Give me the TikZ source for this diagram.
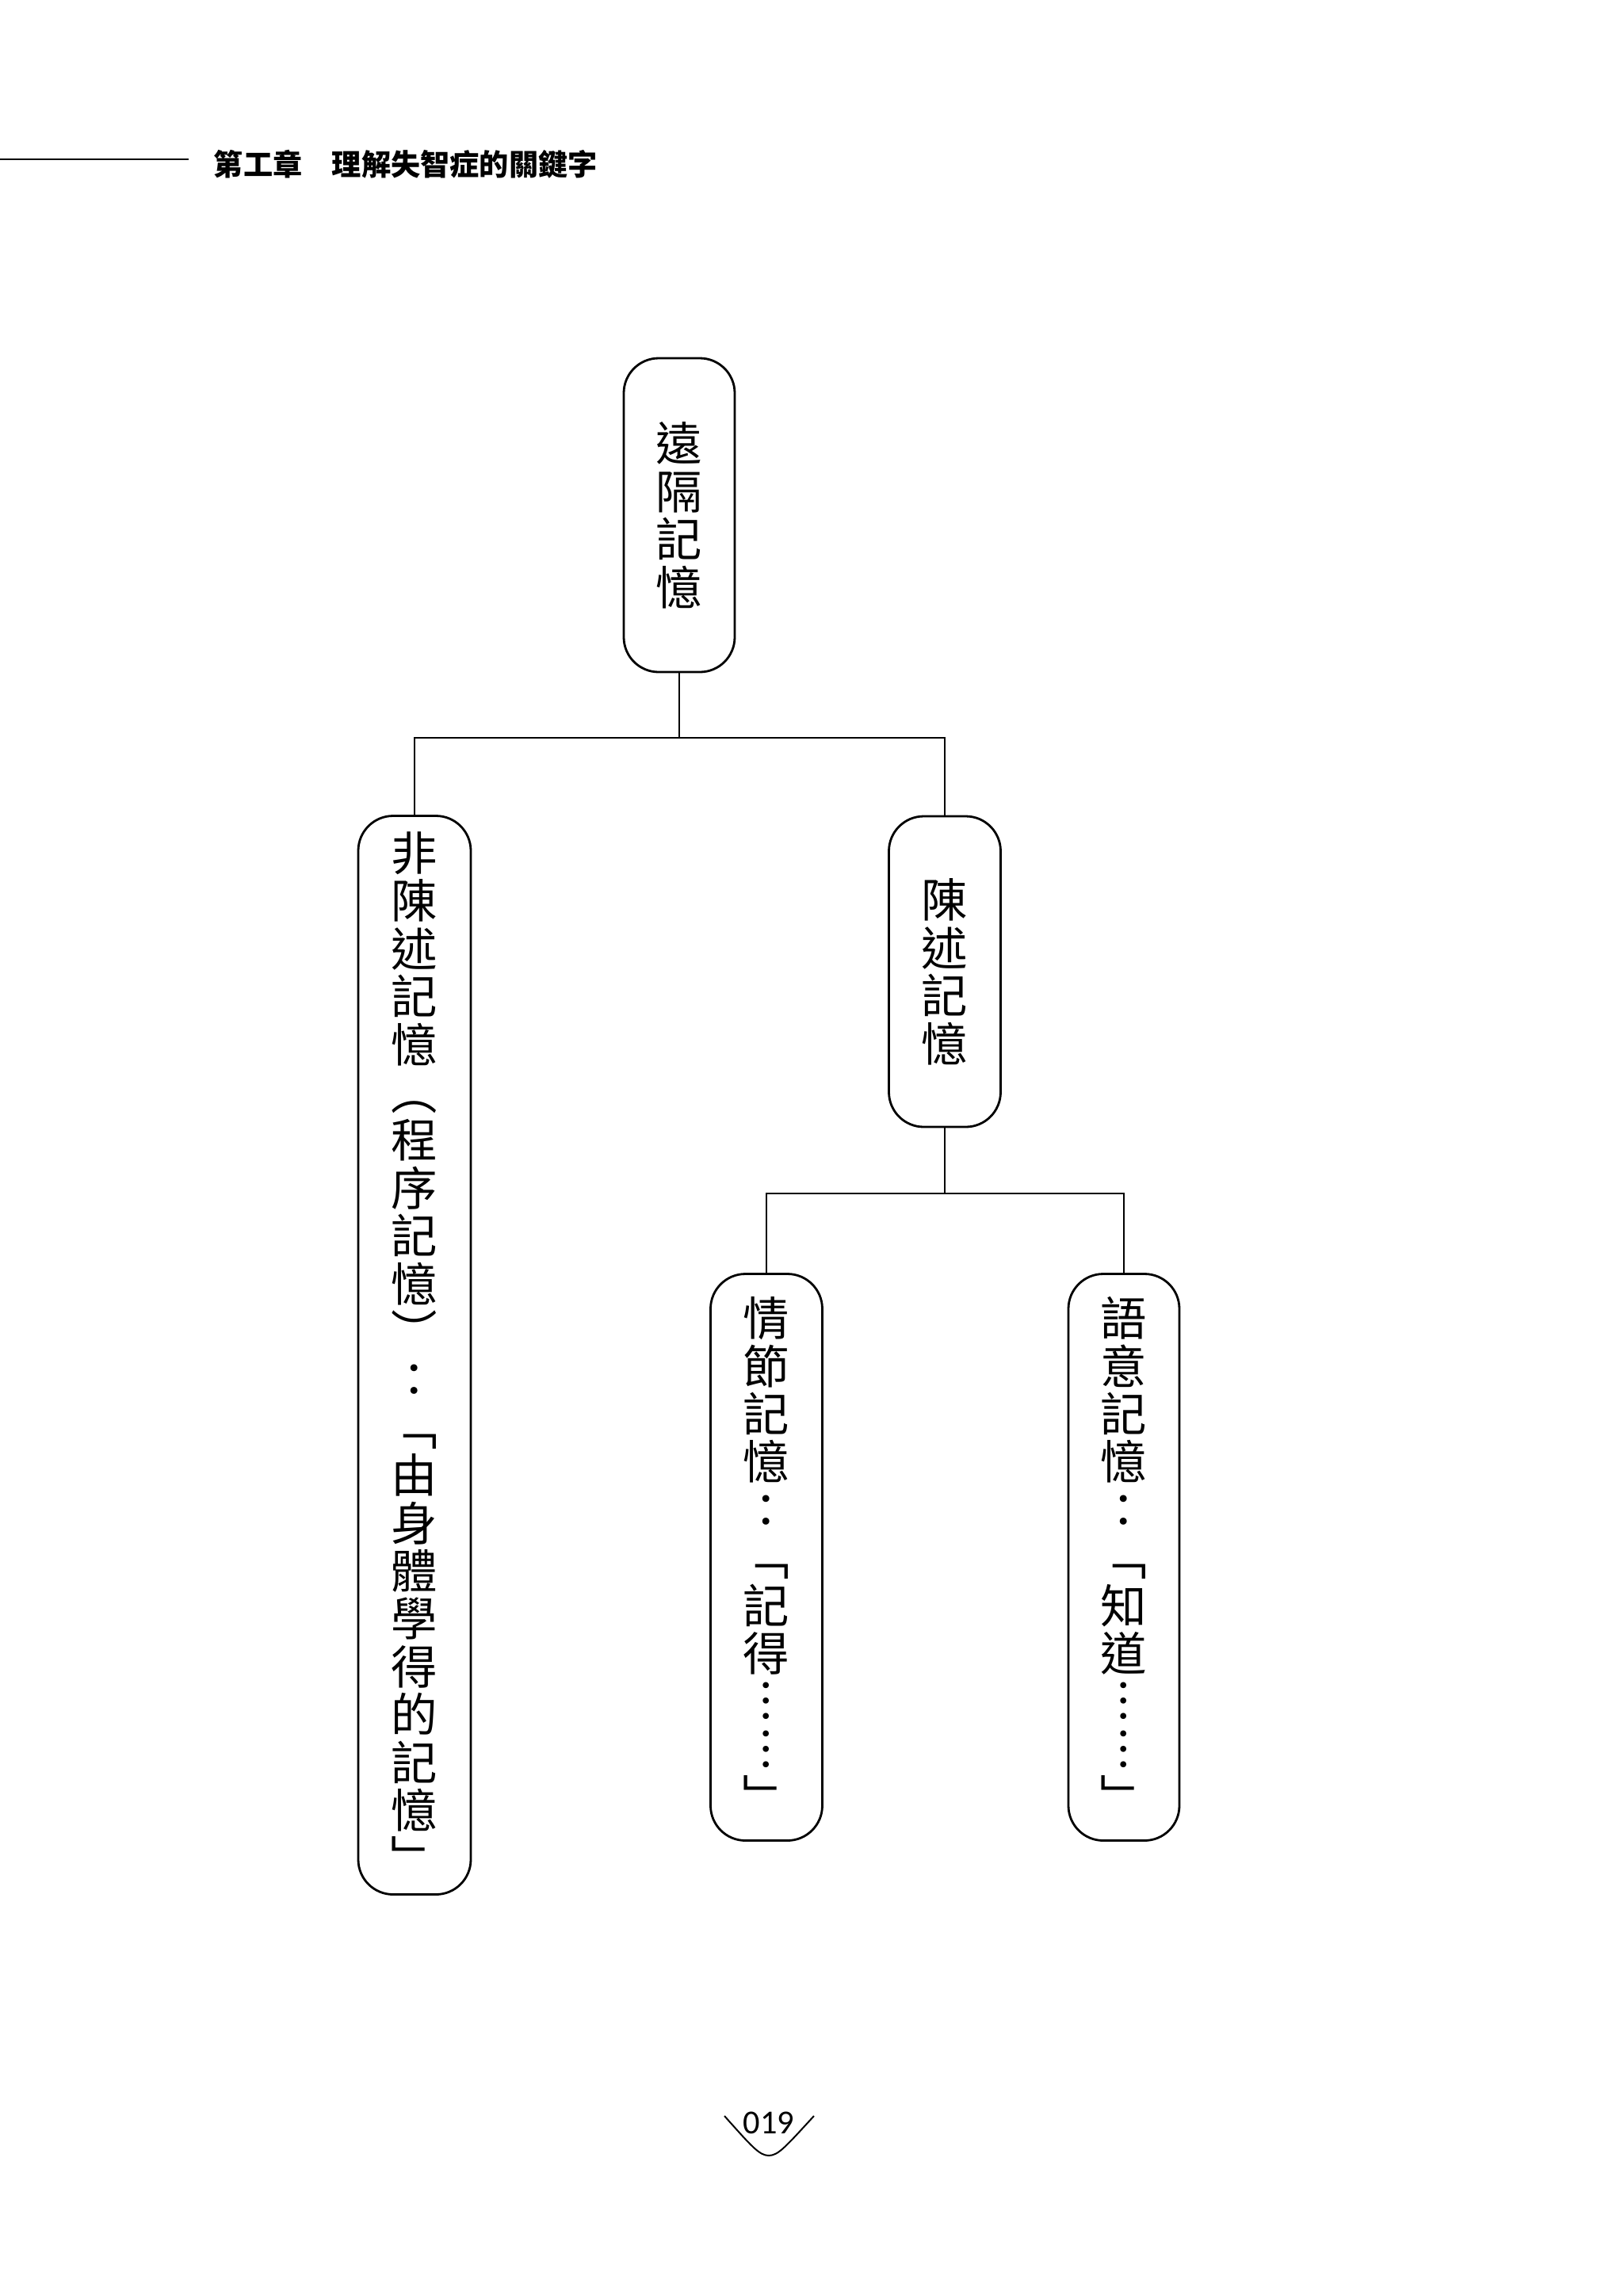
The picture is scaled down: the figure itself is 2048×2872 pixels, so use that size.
\documentclass[tikz,border=0pt]{standalone}
\usepackage{fontspec}
\newfontfamily\cjk{Noto Sans CJK TC}
\newfontfamily\pgnum{Carlito}
\tikzset{
  box/.style={draw, line width=0.7pt, rounded corners=11pt, align=center, inner sep=0pt,
    font=\cjk\fontsize{14.6}{15.1}\selectfont},
  link/.style={line width=0.6pt},
  hdr/.style={anchor=west, inner sep=0pt, font=\cjk\bfseries\fontsize{9.3}{9.3}\selectfont},
}
\newcommand\vst{\vphantom{記}}
\begin{document}
\begin{tikzpicture}[x=0.25pt,y=-0.25pt]
\useasboundingbox[fill=white] (0,0) rectangle (2048,2872);
% header
\coordinate (hl0) at (0,201);
\coordinate (hl1) at (238,201);
\draw[line width=0.5pt] (hl0) -- (hl1);
\node[hdr] (hdr1) at (269,207) {第工章};
\node[hdr] (hdr2) at (418,207) {理解失智症的關鍵字};
% boxes
\node[box, minimum width=35pt, minimum height=99pt] (top) at (857,650) {\vst{}遠\\隔\\記\\憶\vst{}};
\node[box, minimum width=35.5pt, minimum height=340.25pt] (nondecl) at (523,1710)
  {\vst{}非\\陳\\述\\記\\憶\\︵\\程\\序\\記\\憶\\︶\\：\\﹁\\由\\身\\體\\學\\得\\的\\記\\憶\\﹂\vst{}};
\node[box, minimum width=35.25pt, minimum height=98pt] (decl) at (1192,1226) {\vst{}陳\\述\\記\\憶\vst{}};
\node[box, minimum width=35.25pt, minimum height=178.75pt] (epi) at (967,1965)
  {\vst{}情\\節\\記\\憶\\：\\﹁\\記\\得\\︙\\︙\\﹂\vst{}};
\node[box, minimum width=35pt, minimum height=178.75pt] (sem) at (1418,1965)
  {\vst{}語\\意\\記\\憶\\：\\﹁\\知\\道\\︙\\︙\\﹂\vst{}};
% connectors
\coordinate (j1) at (857,931);
\coordinate (j2) at (1192,1506);
\draw[link] (top.south) -- (j1);
\draw[link] (nondecl.north) |- (j1) -| (decl.north);
\draw[link] (decl.south) -- (j2);
\draw[link] (epi.north) |- (j2) -| (sem.north);
% page number
\node[inner sep=0pt, font=\pgnum\fontsize{10.6}{10.6}\selectfont] (pg) at (970,2679) {019};
\coordinate (c0) at (914,2670);
\coordinate (c1) at (1027,2670);
\draw[line width=0.5pt] (c0) .. controls (948,2708) and (958,2720) .. (970,2720)
  .. controls (982,2720) and (992,2708) .. (c1);
\end{tikzpicture}
\end{document}
